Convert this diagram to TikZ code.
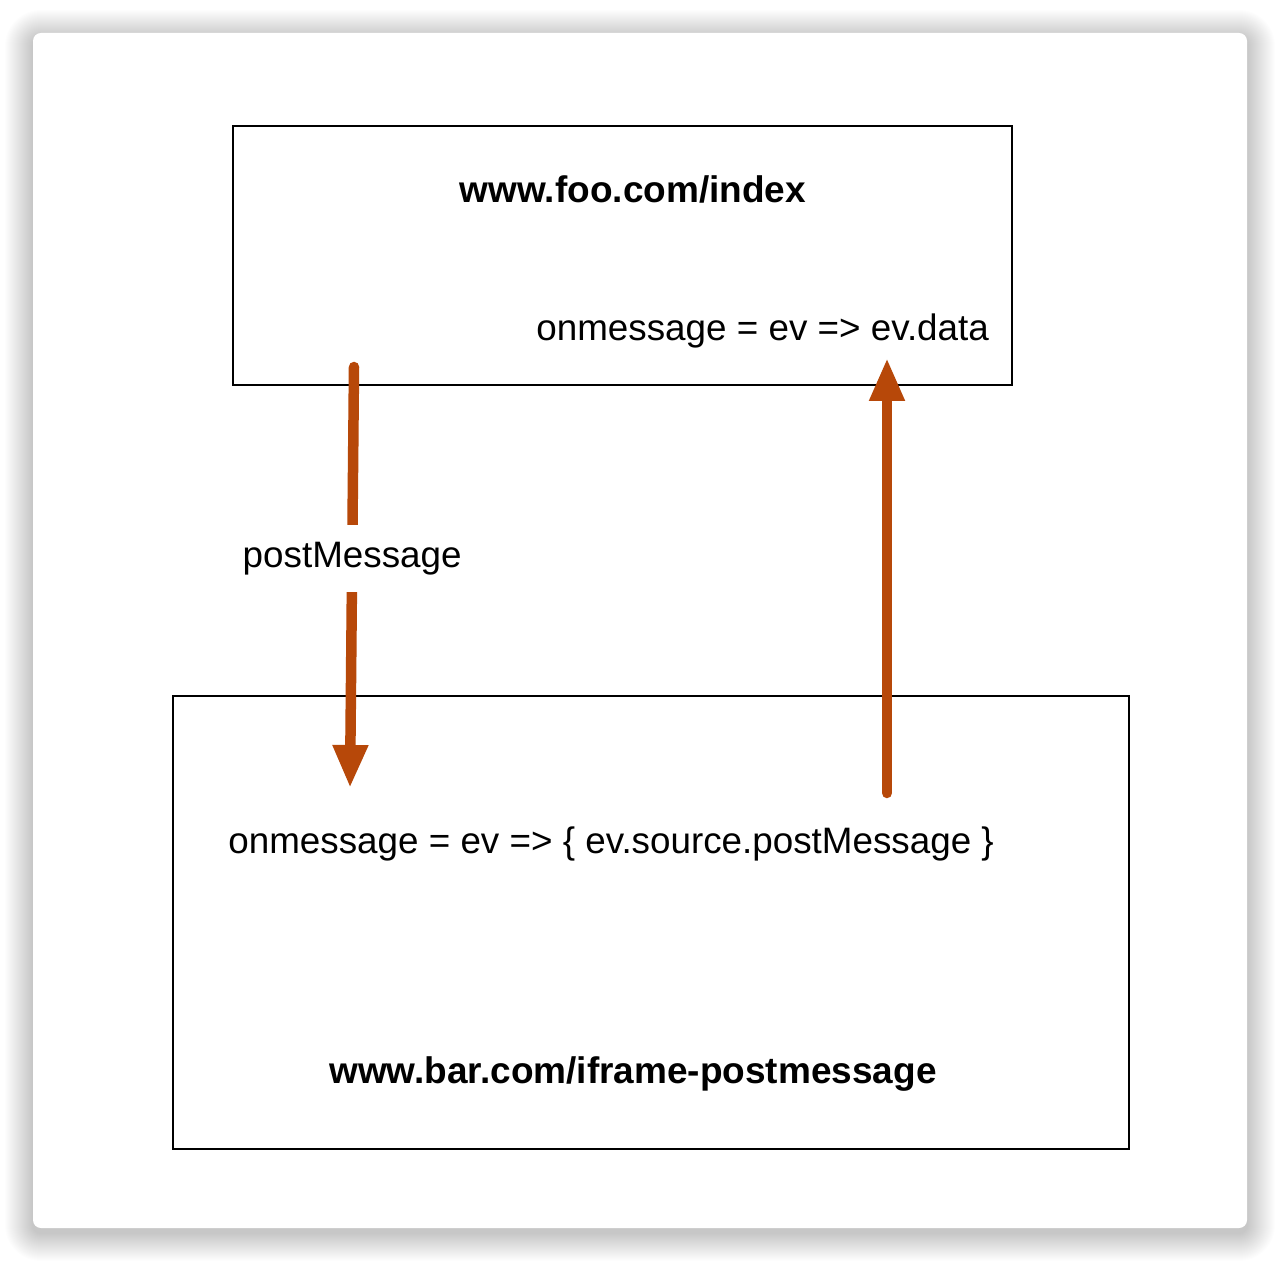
\documentclass[tikz,border=0pt]{standalone}
\usepackage{fontspec}
\setmainfont{Liberation Sans}
\usepackage{xcolor}
\usetikzlibrary{arrows.meta}
\usetikzlibrary{positioning}
\definecolor{msgorange}{RGB}{183,72,9}
\tikzset{
  pagebox/.style = {draw, rectangle, line width = 0.75pt, inner sep = 0, outer sep = 0},
  codetext/.style = {draw=none, inner sep = 0, font=\fontsize{18.4pt}{22pt}\selectfont},
  urltext/.style = {codetext, font=\fontsize{18.5pt}{22pt}\selectfont\bfseries},
  msgarrow/.style = {msgorange, line width = 5.25pt, line cap = round,
    -{Triangle[length=21.5pt, width=16.5pt]}},
}

\begin{document}
\begin{tikzpicture}[x=0.5pt, y=-0.5pt]
\useasboundingbox (0, 0) rectangle (1280, 1261);
% card with soft shadow
\foreach \s in {1,...,28} {
  \pgfmathsetmacro\rr{4+\s*0.5}
  \fill [black, opacity = 0.0085, rounded corners = \rr pt]
    (33-\s, 33-\s+5) rectangle (1247+\s, 1228+\s+5);
}
\fill [white, rounded corners = 4pt] (33, 33) rectangle (1247, 1228);
% the two pages
\node [pagebox, minimum width = 389.5pt, minimum height = 129.5pt] (foo) at (622.5, 255.5) {};
\node [pagebox, minimum width = 478pt, minimum height = 226.5pt] (bar) at (651, 922.5) {};
\node [urltext, anchor = base] (foourl) at (633, 203) {www.foo.com/index};
\node [codetext, anchor = base west] (fooon) at (536, 341) {onmessage = ev => ev.data};
\node [codetext, anchor = base west] (baron) at (228, 853) {onmessage = ev => \{ ev.source.postMessage \}};
\node [urltext, anchor = base] (barurl) at (633, 1083) {www.bar.com/iframe-postmessage};
% message path
\coordinate (send) at (354, 367);
\coordinate (recv) at (350, 788);
\coordinate (reply) at (887, 793);
\coordinate (back) at (887, 358);
\draw [msgarrow] (send) -- (recv)
  node [codetext, pos = 0.455, fill = white, inner sep = 8.5pt, text = black] (post) {postMessage};
\draw [msgarrow] (reply) -- (back);
\end{tikzpicture}
\end{document}
